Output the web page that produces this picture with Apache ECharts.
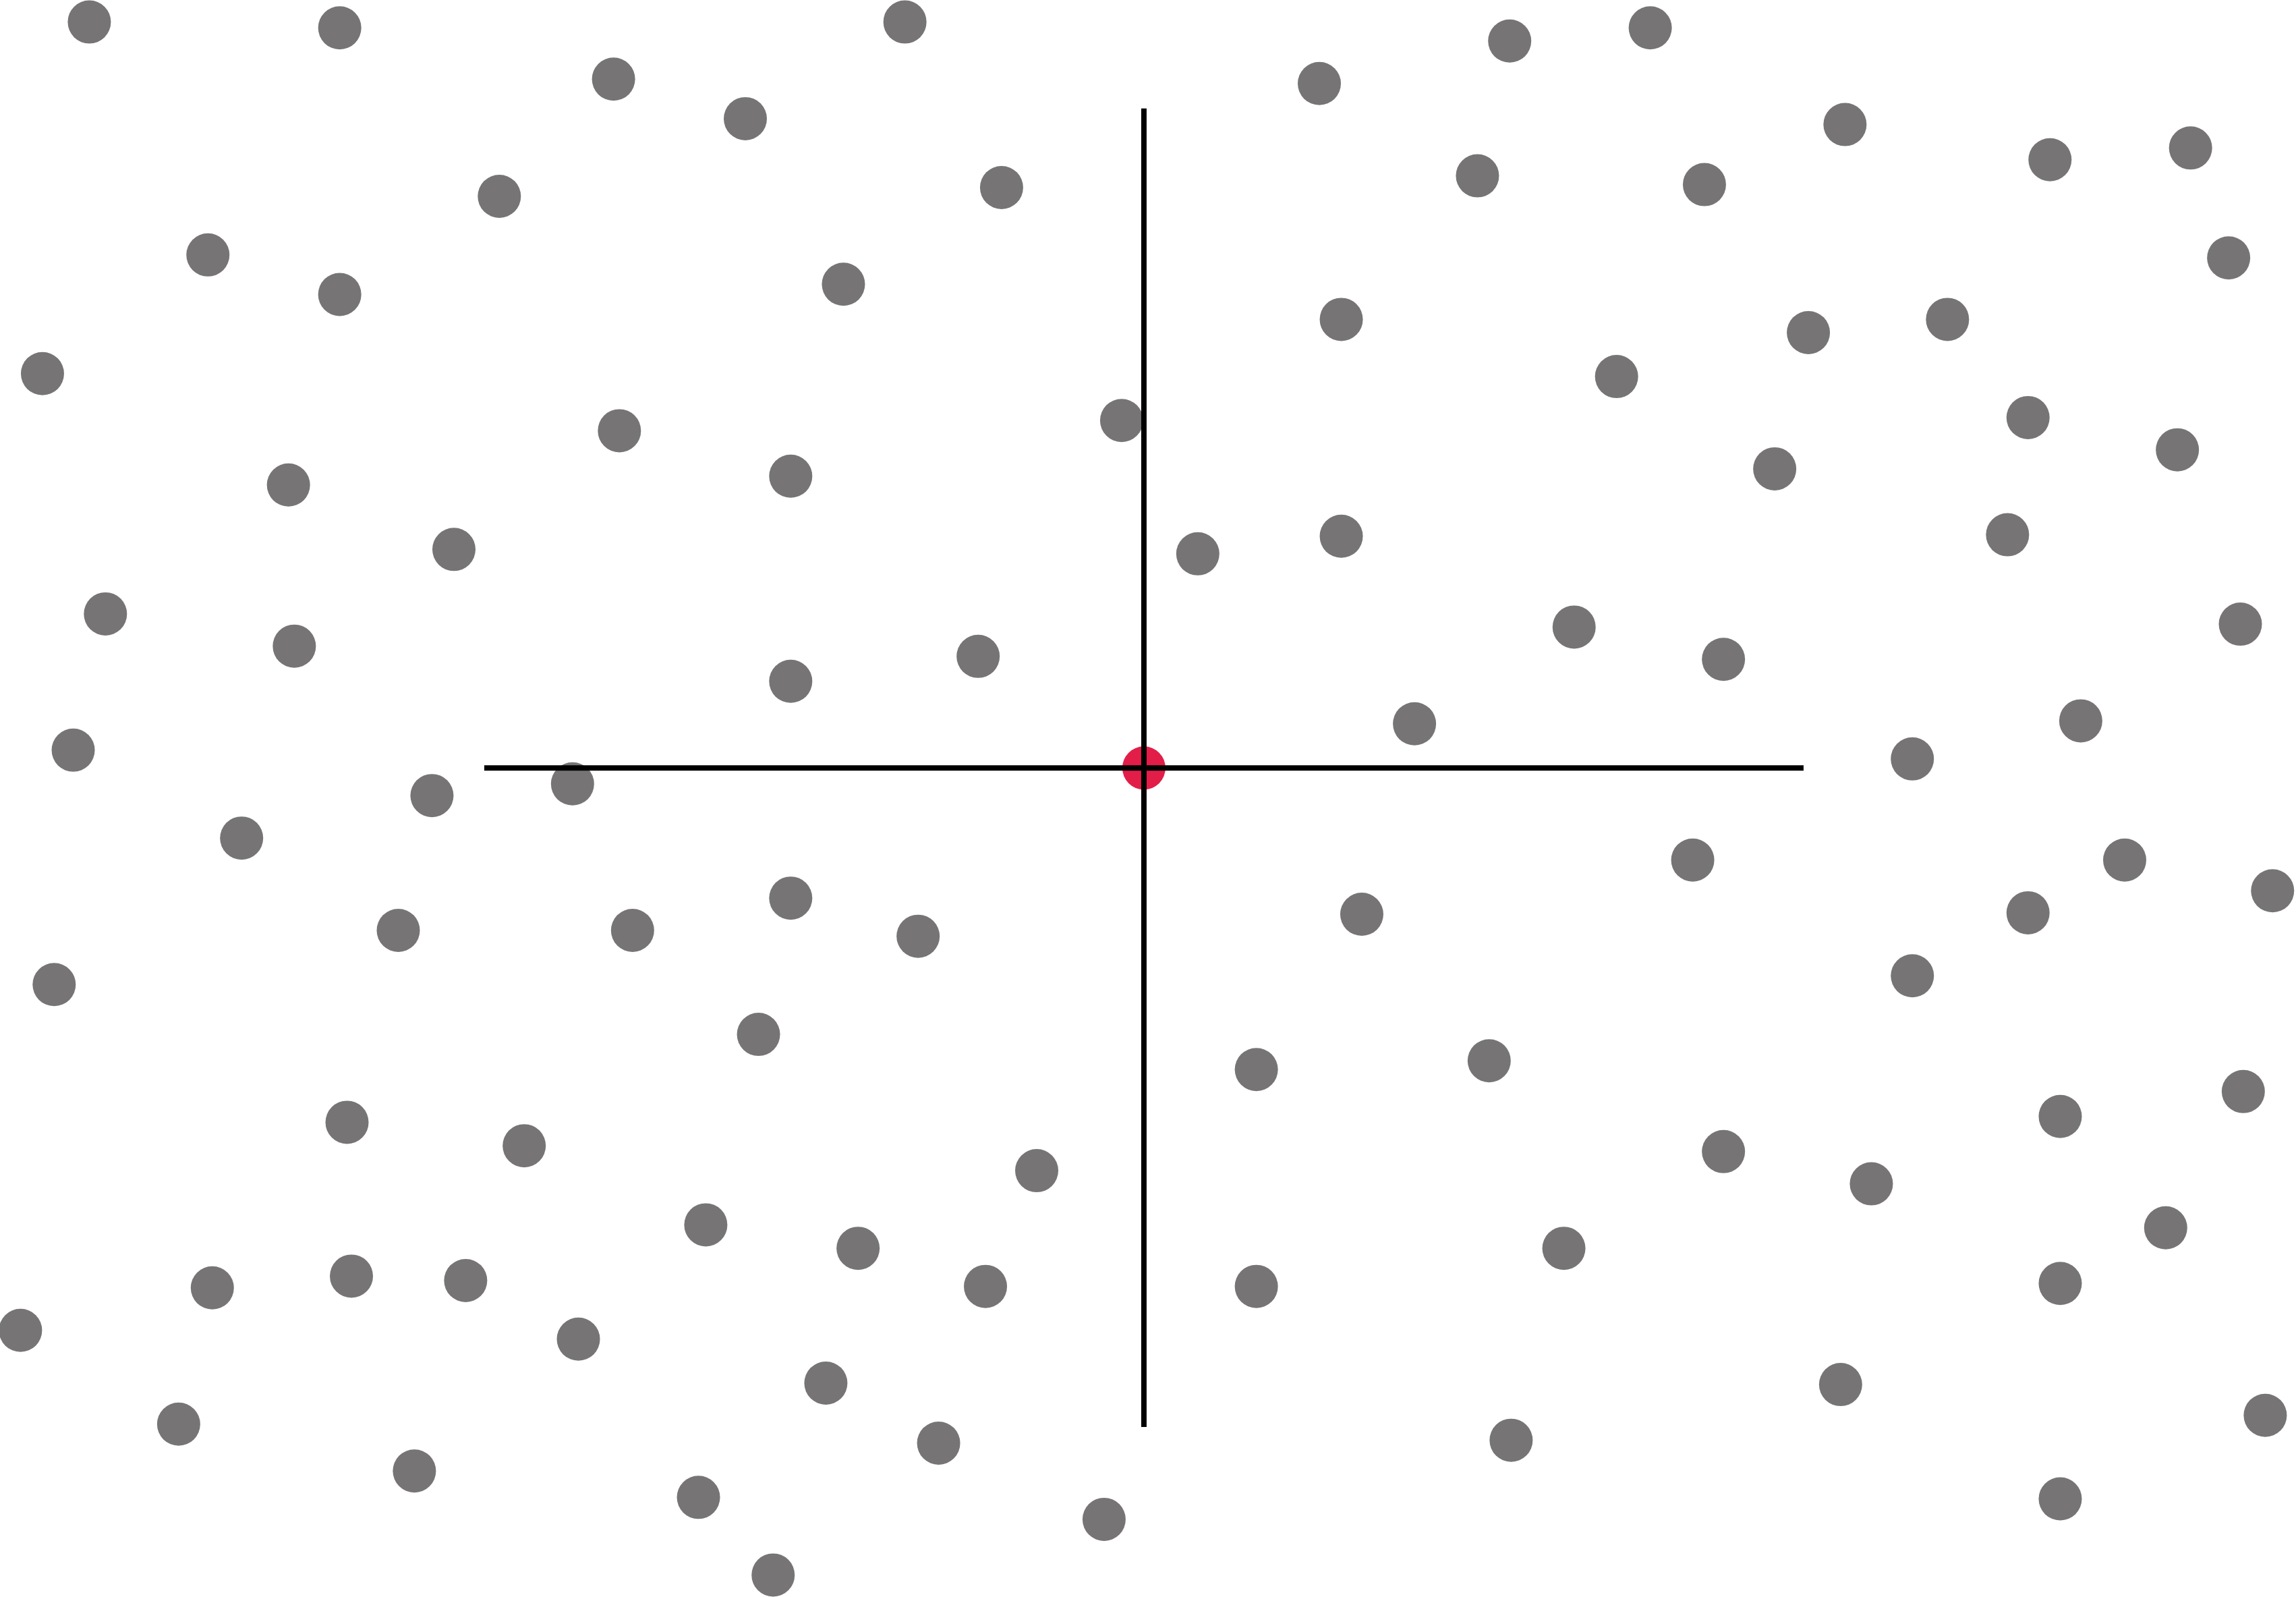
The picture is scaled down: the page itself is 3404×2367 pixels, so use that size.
<!DOCTYPE html>
<html>
<head>
<meta charset="utf-8">
<script src="https://cdn.jsdelivr.net/npm/echarts@6/dist/echarts.min.js"></script>
<style>
html,body{margin:0;padding:0;background:#fff;}
#chart{width:3404px;height:2367px;}
</style>
</head>
<body>
<div id="chart"></div>
<script>
// Plot coordinate space (x: 0..1568, y: 0..1090, y grows downward)
const xRange = [0, 1568];
const yRange = [0, 1090];

// Gray points [x, y]
const grayPoints = [
  [61,15],[232,19],[618,15],[419,54],[509,81],[901,57],[1031,28],[1127,19],
  [1260,85],[1400,109],[1496,101],[341,134],[684,128],[1009,120],[1164,126],
  [142,174],[232,201],[576,194],[1522,176],[29,255],[916,218],[1235,227],
  [1330,218],[1104,257],[766,287],[423,294],[540,325],[1385,285],[1487,307],
  [1212,320],[197,331],[310,375],[818,378],[916,366],[1371,365],[72,419],
  [201,441],[540,465],[668,448],[1075,428],[1177,450],[1530,426],[966,494],
  [1421,492],[50,512],[295,543],[391,535],[1306,518],[165,572],[1156,587],
  [1451,587],[1552,608],[540,613],[272,635],[432,635],[627,639],[930,624],
  [1385,623],[37,672],[1306,666],[518,706],[858,730],[1017,724],[1532,745],
  [237,766],[358,782],[1407,762],[1177,786],[708,799],[1278,808],[482,836],
  [1479,838],[586,852],[1068,852],[145,879],[240,871],[318,874],[673,878],
  [858,878],[1407,876],[14,908],[395,914],[564,944],[1257,945],[122,972],
  [1547,966],[283,1004],[641,985],[1032,983],[477,1022],[754,1037],[1407,1023],
  [528,1075]
];

// Highlighted center point
const centerPoint = [[781.2, 524.2]];

// Crosshair segments
const hLine = [[330.7, 524.2], [1231.7, 524.2]];
const vLine = [[781.2, 74], [781.2, 974]];

const chart = echarts.init(document.getElementById('chart'), null, {renderer: 'canvas'});
chart.setOption({
  animation: false,
  backgroundColor: '#ffffff',
  grid: {left: 0, right: 0, top: 0, bottom: 0},
  xAxis: {type: 'value', min: xRange[0], max: xRange[1], show: false},
  yAxis: {type: 'value', min: yRange[0], max: yRange[1], inverse: true, show: false},
  series: [
    {
      type: 'scatter', data: grayPoints, symbolSize: 64, z: 2,
      itemStyle: {color: '#767474', opacity: 1}
    },
    {
      type: 'scatter', data: centerPoint, symbolSize: 64, z: 3,
      itemStyle: {color: '#e21e48', opacity: 1}
    },
    {
      type: 'line', data: hLine, symbol: 'none', z: 5,
      lineStyle: {color: '#000000', width: 8}
    },
    {
      type: 'line', data: vLine, symbol: 'none', z: 5,
      lineStyle: {color: '#000000', width: 8}
    }
  ]
});
</script>
</body>
</html>
